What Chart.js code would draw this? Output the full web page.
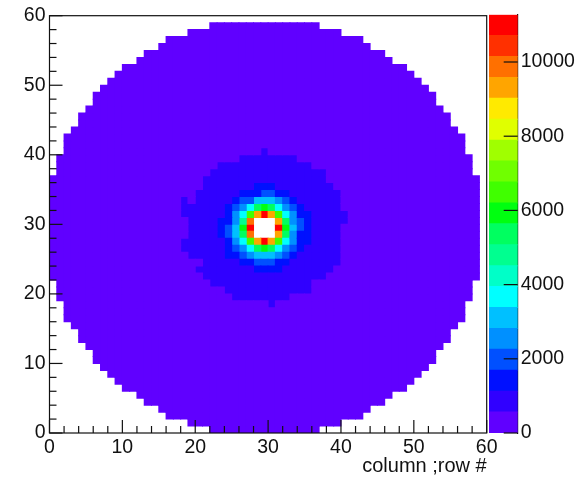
<!DOCTYPE html>
<html>
<head>
<meta charset="utf-8">
<title>column ;row #</title>
<script src="https://cdn.jsdelivr.net/npm/chart.js@4"></script>
<style>
  html, body { margin: 0; background: #fff; }
  #wrap { position: relative; width: 579px; height: 479px; overflow: hidden; }
  canvas { position: absolute; top: 0; }
  #hitmap { left: 0; }
  #palette { left: 480px; }
</style>
</head>
<body>
<div id="wrap">
  <canvas id="hitmap" width="579" height="479"></canvas>
  <canvas id="palette" width="99" height="479"></canvas>
</div>
<script>
// palette levels, bottom to top
const levelColors = [
  "#6000ff", "#3000ff", "#0010ff", "#0050ff", "#0090ff",
  "#00c0ff", "#00ffff", "#00ffc8", "#00ff90", "#00ff60",
  "#00ff10", "#40ff00", "#70ff00", "#a0ff00", "#e0ff00",
  "#ffea00", "#ffa500", "#ff7000", "#ff3000", "#ff0000"
];
const zMax = 11275;
const zTicks = [0, 2000, 4000, 6000, 8000, 10000];
const axisTicks = [0, 10, 20, 30, 40, 50, 60];

// filled columns of each row, row 0 first (end is exclusive), row 59 is empty
const rowFirst = [22, 19, 16, 15, 13, 12, 10, 9, 8, 7, 6, 6, 5, 4, 4, 3, 2, 2, 2, 1, 1, 1, 0, 0, 0, 0, 0, 0, 0, 0,
  0, 0, 0, 0, 0, 0, 0, 1, 1, 1, 2, 2, 2, 3, 4, 4, 5, 6, 6, 7, 8, 9, 10, 12, 13, 15, 16, 19, 22];
const rowEnd = [37, 40, 43, 44, 46, 47, 49, 50, 51, 52, 53, 53, 54, 55, 55, 56, 57, 57, 57, 58, 58, 58, 59, 59, 59, 59, 59, 59, 59, 59,
  59, 59, 59, 59, 59, 59, 59, 58, 58, 58, 57, 57, 57, 56, 55, 55, 54, 53, 53, 52, 51, 50, 49, 47, 46, 44, 43, 40, 37];

// palette level of the spot, columns 18-40, rows 40 down to 18 ("." = off scale, left white)
const spotTopRow = 40;
const spotFirstCol = 18;
const spotLevels = [
  "00000000000100000000000",
  "00000000111111110000000",
  "00000111111111111100000",
  "00001111111111111111000",
  "00011111111111111111000",
  "00011111112221111111100",
  "00111111222332211111110",
  "10111112335554321111110",
  "11111123469a96432111110",
  "111111246bgjgb642211111",
  "011112248h...g943211111",
  "01111235aj...ja53211110",
  "011112359h...g942211110",
  "111111246bgjgb642211110",
  "11111123469a96432111110",
  "01111122345554321111110",
  "00011111223332211111110",
  "00111111112222111111100",
  "00011111111111111111000",
  "00001111111111111100000",
  "00000011111111111100000",
  "00000001111111100000000",
  "00000000000010000000000"
];

const FONT = "'Liberation Sans', Arial, sans-serif";
const TEXT = "#111";

function levelAt(row, col) {
  const s = spotLevels[spotTopRow - row];
  const i = col - spotFirstCol;
  if (s && i >= 0 && i < s.length) return s[i] === "." ? -1 : parseInt(s[i], 20);
  return 0;
}

// one bar dataset for each palette level
const mapDatasets = levelColors.map(color => ({ data: [], backgroundColor: color, inflateAmount: 0.5 }));
rowFirst.forEach((first, row) => {
  for (let col = first; col < rowEnd[row]; col++) {
    const lv = levelAt(row, col);
    if (lv >= 0) mapDatasets[lv].data.push({ x: col + 0.5, y: [row, row + 1] });
  }
});

const levelStep = zMax / levelColors.length;
const paletteDatasets = levelColors.map((color, i) => ({
  data: [[i * levelStep, (i + 1) * levelStep]],
  backgroundColor: color,
  inflateAmount: 0.5
}));

// ROOT style ticks, pointing into the frame
function tick(ctx, scale, value, len) {
  ctx.beginPath();
  if (scale.isHorizontal()) {
    const x = scale.getPixelForValue(value);
    ctx.moveTo(x, scale.top);
    ctx.lineTo(x, scale.top - len);
  } else {
    const y = scale.getPixelForValue(value);
    const edge = scale.position === "right" ? scale.left : scale.right;
    ctx.moveTo(edge, y);
    ctx.lineTo(edge + (scale.position === "right" ? -len : len), y);
  }
  ctx.stroke();
}

const mapFrame = {
  id: "mapFrame",
  afterDraw(chart) {
    const { ctx, chartArea: a, scales } = chart;
    ctx.save();
    ctx.strokeStyle = "#111";
    ctx.lineWidth = 1.2;
    ctx.strokeRect(a.left, a.top, a.right - a.left, a.bottom - a.top);
    for (let v = 0; v <= 60; v += 2) {
      const len = v % 10 === 0 ? 13 : 7;
      tick(ctx, scales.x, v, len);
      tick(ctx, scales.y, v, len);
    }
    ctx.restore();
  }
};

const paletteFrame = {
  id: "paletteFrame",
  afterDraw(chart) {
    const { ctx, scales } = chart;
    ctx.save();
    ctx.strokeStyle = "#111";
    ctx.lineWidth = 1.2;
    zTicks.forEach(v => tick(ctx, scales.y, v, 14));
    ctx.restore();
  }
};

new Chart(document.getElementById("hitmap"), {
  type: "bar",
  data: { datasets: mapDatasets },
  plugins: [mapFrame],
  options: {
    responsive: false,
    animation: false,
    events: [],
    grouped: false,
    barPercentage: 1,
    categoryPercentage: 1,
    layout: { autoPadding: false, padding: { left: 0, top: 13.5, right: 92.3, bottom: 0 } },
    plugins: { legend: { display: false }, tooltip: { enabled: false } },
    scales: {
      x: {
        type: "linear",
        min: 0,
        max: 60,
        offset: false,
        grid: { display: false, offset: false, drawTicks: false },
        border: { display: false },
        afterBuildTicks(s) { s.ticks = axisTicks.map(value => ({ value })); },
        afterFit(s) { s.height = 46; },
        ticks: { maxRotation: 0, padding: 3, color: TEXT, font: { family: FONT, size: 19.5 } },
        title: {
          display: true,
          text: "column ;row #",
          align: "end",
          color: TEXT,
          padding: { top: 0, bottom: 1 },
          font: { family: FONT, size: 20 }
        }
      },
      y: {
        type: "linear",
        min: 0,
        max: 60,
        grid: { display: false, drawTicks: false },
        border: { display: false },
        afterBuildTicks(s) { s.ticks = axisTicks.map(value => ({ value })); },
        afterFit(s) { s.width = 49.5; },
        ticks: { padding: 4, color: TEXT, font: { family: FONT, size: 19.5 } }
      }
    }
  }
});

new Chart(document.getElementById("palette"), {
  type: "bar",
  data: { labels: ["z"], datasets: paletteDatasets },
  plugins: [paletteFrame],
  options: {
    responsive: false,
    animation: false,
    events: [],
    grouped: false,
    barPercentage: 1,
    categoryPercentage: 1,
    layout: { autoPadding: false, padding: { left: 9, top: 13, right: 0, bottom: 46 } },
    plugins: { legend: { display: false }, tooltip: { enabled: false } },
    scales: {
      x: { display: false },
      y: {
        position: "right",
        min: 0,
        max: zMax,
        grid: { display: false, drawTicks: false },
        border: { display: true, color: "#111", width: 1.2 },
        afterBuildTicks(s) { s.ticks = zTicks.map(value => ({ value })); },
        afterFit(s) { s.width = 61.3; },
        ticks: {
          padding: 3,
          color: TEXT,
          font: { family: FONT, size: 19.5 },
          callback: v => String(v)
        }
      }
    }
  }
});
</script>
</body>
</html>
